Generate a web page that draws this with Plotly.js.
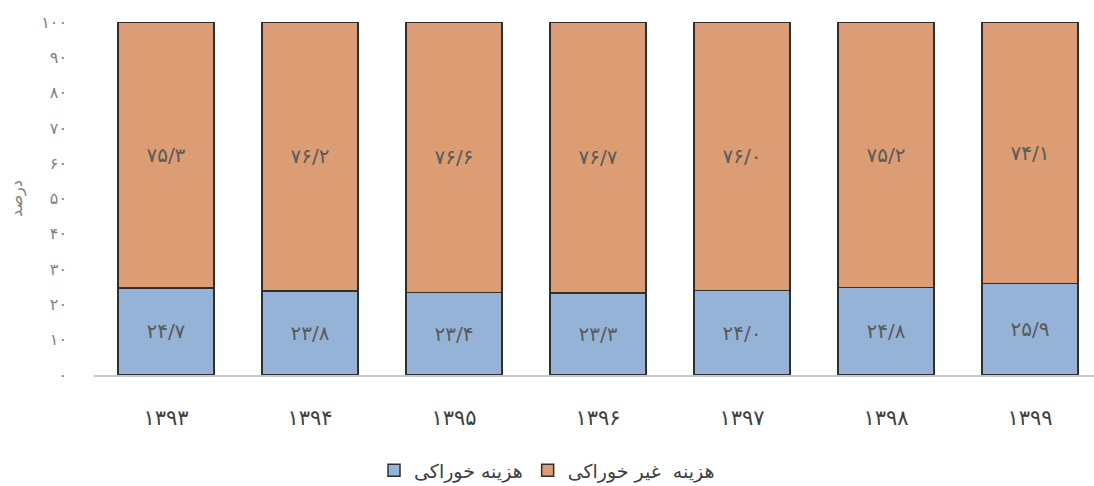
<!DOCTYPE html>
<html><head><meta charset="utf-8">
<script src="https://cdn.plot.ly/plotly-3.0.1.min.js"></script>
<style>html,body{margin:0;padding:0;background:#fff}#chart{width:1094px;height:486px}</style>
</head><body><div id="chart"></div>
<script>
var years = ['۱۳۹۳','۱۳۹۴','۱۳۹۵','۱۳۹۶','۱۳۹۷','۱۳۹۸','۱۳۹۹'];
var foodCost = [24.7, 23.8, 23.4, 23.3, 24.0, 24.8, 25.9];
var nonFoodCost = [75.3, 76.2, 76.6, 76.7, 76.0, 75.2, 74.1];
var seriesNames = ['هزینه خوراکی', 'هزینه  غیر خوراکی'];
var yTickVals = [0,10,20,30,40,50,60,70,80,90,100];

function fa(s){ return String(s).replace(/[0-9]/g, function(d){ return '۰۱۲۳۴۵۶۷۸۹'[+d]; }); }
function lbl(v){ return fa(v.toFixed(1)).replace('.', '/'); }

var font = 'DejaVu Sans, Noto Sans, sans-serif';
var common = {
  type:'bar', x: years, textposition:'inside', insidetextanchor:'middle',
  textfont:{family:font, size:20, color:'#595959'}, hoverinfo:'skip',
  constraintext:'none'
};
var t1 = Object.assign({}, common, {
  y: foodCost, name: seriesNames[0], text: foodCost.map(lbl),
  marker:{color:'#95b3d7', line:{color:'#2f2f2f', width:1.5}}
});
var t2 = Object.assign({}, common, {
  y: nonFoodCost, name: seriesNames[1], text: nonFoodCost.map(lbl),
  marker:{color:'#dc9d74', line:{color:'#2f2f2f', width:1.5}}
});

var layout = {
  width:1094, height:486, barmode:'stack', bargap:0.333,
  margin:{l:94, r:0, t:22, b:111, autoexpand:false},
  paper_bgcolor:'#fff', plot_bgcolor:'#fff', showlegend:true,
  font:{family:font},
  xaxis:{type:'category', range:[-0.5, 6.444], showgrid:false, zeroline:false,
    showline:true, linecolor:'#c8c8c8', linewidth:1.5, ticks:'',
    tickfont:{family:font, size:21, color:'#404040'}, ticklabelstandoff:23},
  yaxis:{range:[0,100], showgrid:false, zeroline:false, showline:false,
    tickvals:yTickVals, ticktext:yTickVals.map(fa), ticks:'',
    tickfont:{family:font, size:16, color:'#7f7f7f'}, ticklabelstandoff:26,
    title:{text:'درصد', font:{family:font, size:16, color:'#7f7f7f'}, standoff:14}},
  legend:{orientation:'h', x:0.453, xanchor:'center', y:-0.27, yanchor:'middle',
    traceorder:'normal', font:{family:font, size:19, color:'#404040'}, itemwidth:30}
};
Plotly.newPlot('chart', [t1, t2], layout, {displayModeBar:false, staticPlot:true});
</script></body></html>
